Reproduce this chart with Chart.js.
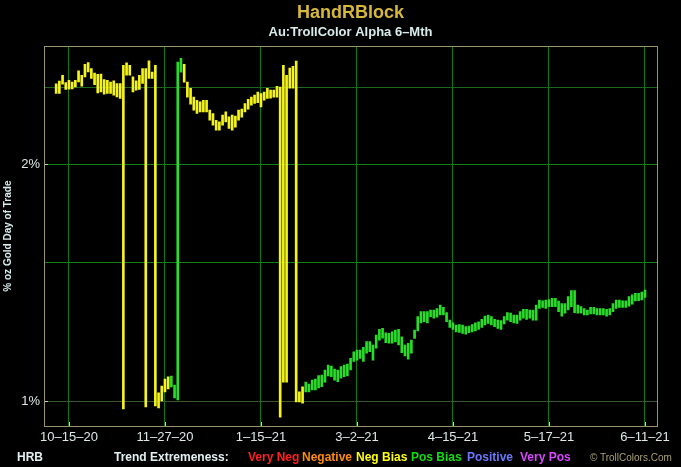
<!DOCTYPE html>
<html>
<head>
<meta charset="utf-8">
<script src="https://cdn.jsdelivr.net/npm/chart.js@4.4.1/dist/chart.umd.min.js"></script>
<style>
  html, body { margin: 0; padding: 0; background: #000; }
  #wrap { position: relative; width: 681px; height: 467px; background: #000; overflow: hidden; }
  #c { position: absolute; left: 0; top: 0; }
  .lg { position: absolute; top: 450px; font-family: 'Liberation Sans', Arial, sans-serif; font-weight: bold; font-size: 12px; line-height: 14px; white-space: nowrap; }
</style>
</head>
<body>
<div id="wrap">
  <canvas id="c" width="681" height="467"></canvas>
  <span class="lg" style="left:17px;color:#e2f0f0">HRB</span>
  <span class="lg" style="left:114px;color:#e2f0f0">Trend Extremeness:</span>
  <span class="lg" style="left:248px;color:#ff2020">Very Neg</span>
  <span class="lg" style="left:302px;color:#ff8c10">Negative</span>
  <span class="lg" style="left:356px;color:#ffff10">Neg Bias</span>
  <span class="lg" style="left:411px;color:#10dd10">Pos Bias</span>
  <span class="lg" style="left:467px;color:#6a78ff">Positive</span>
  <span class="lg" style="left:520px;color:#d848ff">Very Pos</span>
  <span class="lg" style="left:590px;top:451px;font-weight:normal;font-size:10px;color:#a8a074">© TrollColors.Com</span>
</div>
<script>
// ---- data (percent, oz gold per day of trade) ----
const tickIndex  = [4, 34, 64, 94, 124, 154, 184];
const tickLabels = ['10–15–20', '11–27–20', '1–15–21', '3–2–21', '4–15–21', '5–17–21', '6–11–21'];

const highs = [
  2.530, 2.550, 2.594, 2.539, 2.556, 2.543, 2.556, 2.627, 2.594, 2.679,
  2.692, 2.645, 2.611, 2.600, 2.602, 2.562, 2.556, 2.543, 2.551, 2.532,
  2.532, 2.671, 2.689, 2.671, 2.581, 2.551, 2.594, 2.645, 2.645, 2.705,
  2.619, 2.671, 1.024, 1.045, 1.066, 1.073, 1.076, 1.048, 2.695, 2.726,
  2.679, 2.542, 2.497, 2.434, 2.411, 2.400, 2.411, 2.411, 2.342, 2.319,
  2.274, 2.263, 2.308, 2.330, 2.297, 2.308, 2.301, 2.342, 2.349, 2.388,
  2.418, 2.434, 2.447, 2.470, 2.459, 2.470, 2.497, 2.483, 2.483, 2.512,
  2.505, 2.671, 2.594, 2.648, 2.663, 2.703, 1.027, 1.042, 1.057, 1.051,
  1.063, 1.066, 1.077, 1.079, 1.095, 1.111, 1.108, 1.098, 1.095, 1.106,
  1.111, 1.114, 1.133, 1.155, 1.161, 1.161, 1.170, 1.190, 1.190, 1.178,
  1.213, 1.233, 1.237, 1.221, 1.219, 1.224, 1.231, 1.233, 1.207, 1.178,
  1.184, 1.195, 1.231, 1.280, 1.299, 1.299, 1.299, 1.305, 1.305, 1.311,
  1.324, 1.315, 1.295, 1.267, 1.257, 1.249, 1.251, 1.249, 1.243, 1.245,
  1.251, 1.257, 1.261, 1.270, 1.282, 1.286, 1.280, 1.270, 1.267, 1.265,
  1.280, 1.295, 1.293, 1.286, 1.286, 1.299, 1.308, 1.308, 1.305, 1.305,
  1.324, 1.344, 1.341, 1.344, 1.346, 1.350, 1.350, 1.340, 1.330, 1.330,
  1.357, 1.381, 1.381, 1.324, 1.318, 1.311, 1.305, 1.315, 1.315, 1.311,
  1.311, 1.311, 1.308, 1.311, 1.330, 1.344, 1.344, 1.341, 1.341, 1.357,
  1.364, 1.370, 1.370, 1.375, 1.383
];

const lows = [
  2.460, 2.459, 2.527, 2.488, 2.490, 2.493, 2.507, 2.544, 2.512, 2.581,
  2.619, 2.569, 2.524, 2.463, 2.470, 2.454, 2.459, 2.459, 2.447, 2.434,
  2.423, 0.977, 2.594, 2.594, 2.470, 2.483, 2.488, 2.532, 0.983, 2.569,
  2.569, 0.986, 0.980, 1.000, 1.027, 1.036, 1.042, 1.009, 1.003, 2.617,
  2.542, 2.432, 2.383, 2.342, 2.319, 2.330, 2.330, 2.330, 2.274, 2.241,
  2.209, 2.209, 2.241, 2.263, 2.220, 2.209, 2.228, 2.274, 2.294, 2.330,
  2.349, 2.376, 2.388, 2.394, 2.364, 2.411, 2.423, 2.425, 2.432, 2.432,
  0.954, 1.057, 1.057, 2.497, 2.497, 0.997, 0.997, 0.994, 1.027, 1.027,
  1.033, 1.033, 1.039, 1.043, 1.057, 1.076, 1.074, 1.063, 1.058, 1.069,
  1.074, 1.076, 1.095, 1.123, 1.127, 1.133, 1.123, 1.150, 1.155, 1.127,
  1.167, 1.195, 1.202, 1.186, 1.184, 1.184, 1.189, 1.178, 1.152, 1.141,
  1.130, 1.150, 1.201, 1.228, 1.257, 1.261, 1.257, 1.280, 1.274, 1.278,
  1.286, 1.286, 1.261, 1.240, 1.233, 1.224, 1.222, 1.219, 1.216, 1.221,
  1.224, 1.228, 1.233, 1.240, 1.249, 1.255, 1.249, 1.243, 1.237, 1.233,
  1.253, 1.267, 1.261, 1.257, 1.255, 1.267, 1.274, 1.270, 1.274, 1.267,
  1.267, 1.311, 1.315, 1.311, 1.318, 1.318, 1.318, 1.299, 1.282, 1.293,
  1.305, 1.318, 1.295, 1.293, 1.293, 1.286, 1.286, 1.290, 1.290, 1.286,
  1.286, 1.286, 1.282, 1.286, 1.299, 1.311, 1.315, 1.315, 1.315, 1.320,
  1.328, 1.340, 1.341, 1.344, 1.354
];

// trend class per bar: Y = Neg Bias (yellow), G = Pos Bias (green)
const trend = [
  'YYYYYYYYYY', 'YYYYYYYYYY', 'YYYYYYYYYY', 'YYYYYYGGGG', 'YYYYYYYYYY',
  'YYYYYYYYYY', 'YYYYYYYYYY', 'YYYYYYYYGG', 'GGGGGGGGGG', 'GGGGGGGGGG',
  'GGGGGGGGGG', 'GGGGGGGGGG', 'GGGGGGGGGG', 'GGGGGGGGGG', 'GGGGGGGGGG',
  'GGGGGGGGGG', 'GGGGGGGGGG', 'GGGGGGGGGG', 'GGGGG'
].join('').split('');

const trendColors = { Y: '#f4f41c', G: '#28dc28' };

// ---- chart ----
const FONT = "'Liberation Sans', Arial, sans-serif";

const framePlugin = {
  id: 'frame',
  afterDraw(chart) {
    const { ctx, chartArea: a, scales: { x, y } } = chart;
    ctx.save();
    ctx.lineWidth = 1;
    ctx.strokeStyle = '#c8c8c8';
    ctx.beginPath();
    x.ticks.forEach(t => {
      const px = Math.round(x.getPixelForValue(t.value)) + 0.5;
      ctx.moveTo(px, a.bottom); ctx.lineTo(px, a.bottom - 4);
    });
    [1, 2].forEach(v => {
      const py = Math.round(y.getPixelForValue(v)) + 0.5;
      ctx.moveTo(a.left, py); ctx.lineTo(a.left + 4, py);
    });
    ctx.stroke();
    ctx.strokeStyle = '#9a9470';
    ctx.strokeRect(Math.round(a.left) + 0.5, Math.round(a.top) + 0.5,
                   Math.round(a.right - a.left), Math.round(a.bottom - a.top));
    ctx.restore();
  }
};

const points = highs.map((h, i) => ({ x: i, y: [lows[i], h] }));

new Chart(document.getElementById('c').getContext('2d'), {
  type: 'bar',
  data: {
    datasets: [{
      data: points,
      backgroundColor: trend.map(t => trendColors[t]),
      borderWidth: 0,
      barThickness: 2
    }]
  },
  options: {
    responsive: false,
    animation: false,
    devicePixelRatio: 1,
    layout: { padding: { left: 0, right: 24, top: 0, bottom: 22 } },
    plugins: {
      legend: { display: false },
      tooltip: { enabled: false },
      title: {
        display: true, fullSize: false,
        text: 'HandRBlock', color: '#d6b83a',
        font: { family: FONT, size: 18, weight: 'bold' },
        padding: { top: 2, bottom: 1 }
      },
      subtitle: {
        display: true, fullSize: false,
        text: 'Au:TrollColor Alpha 6–Mth', color: '#d8ecec',
        font: { family: FONT, size: 13, weight: 'bold' },
        padding: { top: 0, bottom: 6 }
      }
    },
    scales: {
      x: {
        type: 'linear',
        min: -3.8, max: 187.75,
        offset: false,
        grid: { color: '#0e7a0e', lineWidth: 1, drawTicks: false, offset: false },
        border: { display: false },
        ticks: {
          color: '#dde8e8', font: { family: FONT, size: 13 }, padding: 4,
          maxRotation: 0, autoSkip: false,
          callback: v => { const i = tickIndex.indexOf(v); return i >= 0 ? tickLabels[i] : ''; }
        },
        afterBuildTicks: s => { s.ticks = tickIndex.map(v => ({ value: v })); },
        afterFit: s => { s.height = 19; }
      },
      y: {
        type: 'logarithmic',
        min: 0.9295, max: 2.824,
        grid: {
          drawTicks: false, lineWidth: 1,
          color: c => {
            const v = c.tick && c.tick.value;
            if (v === 1) return '#35582c';
            if (v === 2.5) return '#1a661a';
            return '#128212';
          }
        },
        border: { display: false },
        ticks: {
          color: '#dde8e8', font: { family: FONT, size: 13 }, padding: 4,
          autoSkip: false,
          callback: v => (v === 1 ? '1%' : v === 2 ? '2%' : '')
        },
        afterBuildTicks: s => { s.ticks = [1, 1.5, 2, 2.5].map(v => ({ value: v })); },
        afterFit: s => { s.width = 44; },
        title: {
          display: true, text: '% oz Gold Day of Trade', color: '#d8ecec',
          font: { family: FONT, size: 10, weight: 'bold' },
          padding: { top: 2, bottom: 0 }
        }
      }
    }
  },
  plugins: [framePlugin]
});
</script>
</body>
</html>
